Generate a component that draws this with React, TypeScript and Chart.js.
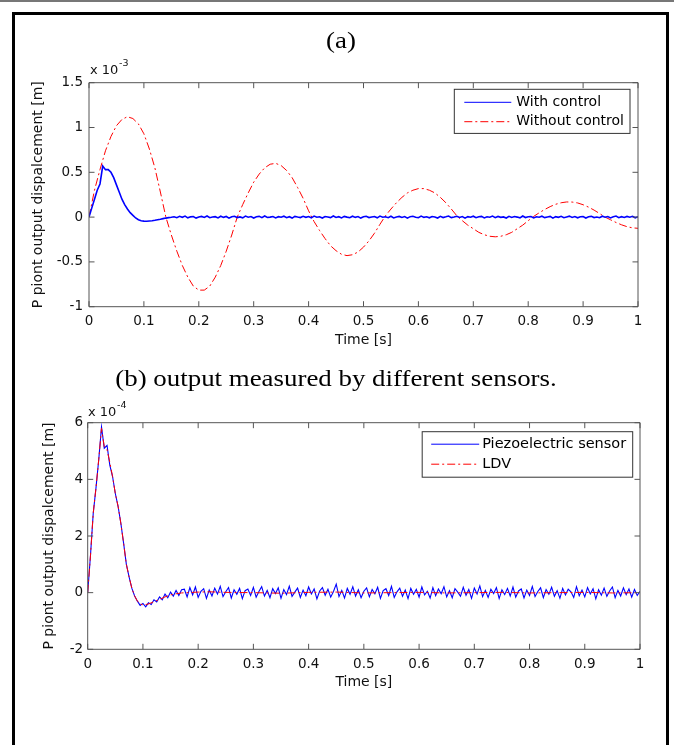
import React, { useEffect, useRef } from "react";
import { Chart, registerables } from "chart.js";

Chart.register(...registerables);

// ---------------- data ----------------
const TIME_TICKS = [0, 0.1, 0.2, 0.3, 0.4, 0.5, 0.6, 0.7, 0.8, 0.9, 1];
const Y_TICKS_A = [-1, -0.5, 0, 0.5, 1, 1.5]; // x 10^-3 m
const Y_TICKS_B = [-2, 0, 2, 4, 6]; // x 10^-4 m

const TRACE_STEP = 0.005; // s, sampling of the measured traces
const RED_A_STEP = 0.01; // s

// (a) with control, units 1e-3 m, t = 0 .. 1 s every 0.005 s
const WITH_CONTROL = [
  0, 0.1, 0.2, 0.3, 0.37, 0.57, 0.53, 0.53, 0.5, 0.44,
  0.36, 0.28, 0.2, 0.14, 0.09, 0.05, 0.02, -0.01, -0.03, -0.04,
  -0.045, -0.046, -0.043, -0.04, -0.036, -0.03, -0.024, -0.017, -0.011, -0.006,
  -0.002,
  0.004, -0.006, 0.009, -0.002, 0.011, -0.008, 0.003, 0.006, -0.011, 0.002,
  0.008, -0.004, 0.012, -0.007, 0.001, 0.005, -0.009, 0.01, -0.003, 0.007,
  -0.012, 0.004, 0.009, -0.005, 0.002, -0.008, 0.011, -0.001, 0.006, -0.01,
  0.003, 0.008, -0.006, 0.012, -0.004, 0.0, 0.007, -0.009, 0.005, -0.002,
  0.01, -0.007, 0.004, -0.011, 0.008, 0.001, -0.005, 0.009, -0.003, 0.006,
  -0.008, 0.011, -0.002, 0.004, -0.01, 0.007, 0.002, -0.006, 0.012, -0.004,
  0.005, -0.009, 0.008, 0.0, -0.007, 0.01, -0.003, 0.006, -0.011, 0.003,
  0.009, -0.005, 0.001, 0.007, -0.008, 0.011, -0.002, 0.004, -0.006, 0.01,
  -0.009, 0.002, 0.008, -0.004, 0.006, -0.012, 0.005, 0.009, -0.001, -0.007,
  0.011, -0.003, 0.004, -0.008, 0.007, 0.002, -0.01, 0.008, -0.005, 0.003,
  0.012, -0.006, 0.001, 0.009, -0.004, 0.006, -0.011, 0.005, -0.002, 0.01,
  -0.007, 0.003, 0.008, -0.009, 0.004, -0.001, 0.011, -0.006, 0.007, -0.003,
  0.002, -0.01, 0.009, -0.004, 0.006, 0.0, -0.008, 0.012, -0.005, 0.003,
  0.007, -0.009, 0.004, -0.002, 0.01, -0.006, 0.001, 0.008, -0.011, 0.005,
  -0.003, 0.009, -0.007, 0.002, 0.011, -0.004, 0.006, -0.008, 0.003, 0.007,
  -0.01, 0.004, 0.008, -0.005, 0.001, -0.007, 0.01, -0.002, 0.006, -0.009,
  0.003, 0.012, -0.006, 0.005, -0.004, 0.008, -0.001, 0.009, -0.008, 0.004,
];

// (a) without control, units 1e-3 m, t = 0 .. 1 s every 0.01 s
const WITHOUT_CONTROL = [
  0, 0.3, 0.53, 0.74, 0.9, 1.02, 1.09, 1.12, 1.1, 1.04, 0.93,
  0.76, 0.55, 0.28, 0.0, -0.2, -0.38, -0.54, -0.67, -0.77, -0.815,
  -0.815, -0.77, -0.67, -0.54, -0.38, -0.2, 0.0, 0.14, 0.27, 0.39,
  0.48, 0.55, 0.59, 0.6, 0.575, 0.52, 0.44, 0.33, 0.21, 0.07,
  -0.05, -0.15, -0.24, -0.32, -0.375, -0.415, -0.43, -0.42, -0.39, -0.335,
  -0.265, -0.18, -0.08, 0.015, 0.09, 0.16, 0.22, 0.27, 0.3, 0.318,
  0.318, 0.3, 0.27, 0.22, 0.16, 0.09, 0.015, -0.04, -0.09, -0.13,
  -0.17, -0.197, -0.214, -0.22, -0.214, -0.197, -0.17, -0.13, -0.09, -0.04,
  0.008, 0.048, 0.085, 0.117, 0.143, 0.16, 0.169, 0.168, 0.158, 0.138,
  0.111, 0.078, 0.04, 0.0, -0.03, -0.06, -0.086, -0.107, -0.12, -0.125,
];

// (b) piezoelectric sensor, units 1e-4 m, t = 0 .. 1 s every 0.005 s
const PIEZO = [
  0, 1.3, 2.8, 3.7, 4.7, 5.85, 5.1, 5.2, 4.5, 4.1,
  3.5, 3.05, 2.45, 1.75, 1.0, 0.55, 0.15, -0.12, -0.3, -0.45,
  -0.38, -0.5, -0.36, -0.42, -0.25, -0.33, -0.15, -0.25, -0.05, -0.18,
  0.02, -0.12, 0.08, -0.1, 0.1,
  0.12, -0.15, 0.18, -0.08, 0.2, -0.17, 0.05, 0.14, -0.2, 0.09,
  -0.12, 0.16, -0.05, 0.22, -0.14, 0.03, 0.18, -0.19, 0.1, -0.06,
  0.15, -0.21, 0.07, 0.13, -0.1, 0.19, -0.16, 0.04, 0.21, -0.12,
  0.08, -0.18, 0.14, -0.03, 0.17, -0.2, 0.11, -0.07, 0.23, -0.13,
  0.02, 0.16, -0.17, 0.09, -0.11, 0.2, -0.05, 0.13, -0.22, 0.06,
  0.18, -0.09, 0.12, -0.16, 0.04, 0.3, -0.14, 0.08, -0.19, 0.15,
  -0.06, 0.21, -0.12, 0.1, -0.18, 0.05, 0.17, -0.15, 0.11, -0.04,
  0.19, -0.2, 0.07, 0.14, -0.1, 0.22, -0.17, 0.03, 0.16, -0.13,
  0.09, -0.21, 0.15, -0.06, 0.12, -0.16, 0.2, -0.08, 0.05, -0.19,
  0.18, -0.11, 0.13, -0.04, 0.21, -0.15, 0.07, -0.18, 0.14, 0.02,
  -0.13, 0.19, -0.09, 0.11, -0.2, 0.16, -0.05, 0.24, -0.14, 0.08,
  -0.17, 0.12, -0.03, 0.18, -0.21, 0.1, -0.07, 0.15, -0.12, 0.2,
  -0.16, 0.06, 0.13, -0.19, 0.09, -0.1, 0.22, -0.14, 0.04, 0.17,
  -0.18, 0.11, -0.06, 0.19, -0.13, 0.07, -0.2, 0.15, -0.08, 0.12,
  0.03, -0.17, 0.21, -0.11, 0.09, -0.15, 0.18, -0.05, 0.14, -0.22,
  0.1, -0.09, 0.16, -0.13, 0.06, 0.2, -0.18, 0.08, -0.12, 0.17,
  -0.07, 0.13, -0.16, 0.11, -0.1, 0.05,
];

// (b) LDV, units 1e-4 m
const LDV_TIME = [
  0, 0.005, 0.01, 0.015, 0.02, 0.025, 0.03, 0.035, 0.04, 0.045,
  0.05, 0.055, 0.06, 0.065, 0.07, 0.075, 0.08, 0.085, 0.09, 0.095,
  0.1, 0.105, 0.11, 0.12, 0.13, 0.14, 0.15, 0.16, 0.17, 0.18,
  0.2, 0.22, 0.25, 0.3, 0.35, 0.4, 0.45, 0.5, 0.55, 0.6,
  0.65, 0.7, 0.75, 0.8, 0.85, 0.9, 0.95, 1,
];
const LDV = [
  0, 1.3, 2.8, 3.7, 4.7, 5.8, 5.15, 5.05, 4.6, 4.1,
  3.5, 3.05, 2.45, 1.75, 1.0, 0.55, 0.15, -0.12, -0.3, -0.4,
  -0.43, -0.42, -0.4, -0.32, -0.24, -0.15, -0.08, -0.04, -0.01, 0,
  0.02, 0.03, 0.01, 0, -0.02, 0.01, 0.02, -0.01, 0.0, 0.01,
  -0.01, 0.0, 0.01, -0.01, 0.0, 0.01, -0.01, 0.0,
];

// ---------------- styling ----------------
const SANS = "'DejaVu Sans', 'Liberation Sans', Arial, sans-serif";
const SERIF = "'Liberation Serif', 'Times New Roman', serif";
const AXIS_COLOR = "#555";

const matlabAxes = {
  id: "matlabAxes",
  afterDatasetsDraw(chart: any, _args: any, opts: any) {
    const { ctx, chartArea } = chart;
    const { left, right, top, bottom } = chartArea;
    const xs = chart.scales.x;
    const ys = chart.scales.y;
    const L = opts.tickLen;
    ctx.save();
    ctx.strokeStyle = AXIS_COLOR;
    ctx.lineWidth = 1;
    ctx.setLineDash([]);
    ctx.beginPath();
    ctx.rect(left, top, right - left, bottom - top);
    for (const t of xs.ticks) {
      const px = xs.getPixelForValue(t.value);
      ctx.moveTo(px, bottom);
      ctx.lineTo(px, bottom - L);
      ctx.moveTo(px, top);
      ctx.lineTo(px, top + L);
    }
    for (const t of ys.ticks) {
      const py = ys.getPixelForValue(t.value);
      ctx.moveTo(left, py);
      ctx.lineTo(left + L, py);
      ctx.moveTo(right, py);
      ctx.lineTo(right - L, py);
    }
    ctx.stroke();

    const lg = opts.legend;
    const ds = chart.data.datasets;
    ctx.font = `${lg.fontSize}px ${SANS}`;
    const textW = Math.max(...ds.map((d: any) => ctx.measureText(d.label).width));
    const w = lg.padLeft + lg.sample + lg.gap + textW + lg.padRight;
    const h = lg.padTop + ds.length * lg.rowH + lg.padBottom;
    const bx = right - lg.offsetRight - w;
    const by = top + lg.offsetTop;
    ctx.fillStyle = "#fff";
    ctx.fillRect(bx, by, w, h);
    ctx.strokeStyle = "#333";
    ctx.lineWidth = 1;
    ctx.strokeRect(bx, by, w, h);
    ds.forEach((d: any, i: number) => {
      const cy = by + lg.padTop + lg.rowH * (i + 0.5);
      ctx.beginPath();
      ctx.setLineDash(d.borderDash || []);
      ctx.strokeStyle = d.borderColor;
      ctx.lineWidth = 1;
      ctx.moveTo(bx + lg.padLeft, cy);
      ctx.lineTo(bx + lg.padLeft + lg.sample, cy);
      ctx.stroke();
      ctx.setLineDash([]);
      ctx.fillStyle = "#000";
      ctx.textBaseline = "middle";
      ctx.textAlign = "left";
      ctx.fillText(d.label, bx + lg.padLeft + lg.sample + lg.gap, cy);
    });
    ctx.restore();
  },
};

function fmt(v: number) {
  return String(Math.round(v * 10) / 10);
}

function makeConfig(spec: any) {
  return {
    type: "line",
    data: { datasets: spec.datasets },
    plugins: [matlabAxes],
    options: {
      animation: false,
      responsive: false,
      maintainAspectRatio: false,
      events: [],
      layout: { padding: spec.padding },
      elements: { point: { radius: 0 }, line: { tension: 0 } },
      plugins: {
        legend: { display: false },
        tooltip: { enabled: false },
        matlabAxes: { tickLen: 5.5, legend: spec.legend },
      },
      scales: {
        x: {
          type: "linear",
          min: 0,
          max: 1,
          afterBuildTicks: (s: any) => {
            s.ticks = TIME_TICKS.map((v) => ({ value: v }));
          },
          afterFit: (s: any) => {
            s.height = spec.xAxisHeight;
          },
          grid: { display: false, drawTicks: false, tickLength: 0 },
          border: { display: false },
          ticks: {
            autoSkip: false,
            maxRotation: 0,
            padding: spec.xTickPad,
            color: "#111",
            font: { family: SANS, size: 13.5 },
            callback: (v: any) => fmt(Number(v)),
          },
          title: {
            display: true,
            text: "Time [s]",
            color: "#111",
            font: { family: SANS, size: 14 },
            padding: { top: 0, bottom: spec.xTitlePad },
          },
        },
        y: {
          type: "linear",
          min: spec.yTicks[0],
          max: spec.yTicks[spec.yTicks.length - 1],
          afterBuildTicks: (s: any) => {
            s.ticks = spec.yTicks.map((v: number) => ({ value: v }));
          },
          afterFit: (s: any) => {
            s.width = spec.yAxisWidth;
          },
          grid: { display: false, drawTicks: false, tickLength: 0 },
          border: { display: false },
          ticks: {
            autoSkip: false,
            padding: spec.yTickPad,
            color: "#111",
            font: { family: SANS, size: 13.5 },
            callback: (v: any) => fmt(Number(v)),
          },
          title: {
            display: true,
            text: "P piont output dispalcement [m]",
            color: "#111",
            font: { family: SANS, size: 14 },
            padding: { top: spec.yTitlePad, bottom: 0 },
          },
        },
      },
    },
  };
}

const specA = {
  yTicks: Y_TICKS_A,
  datasets: [
    {
      label: "With control",
      data: WITH_CONTROL.map((v, i) => ({ x: i * TRACE_STEP, y: v })),
      borderColor: "#0000ff",
      borderWidth: 1.6,
    },
    {
      label: "Without control",
      data: WITHOUT_CONTROL.map((v, i) => ({ x: i * RED_A_STEP, y: v })),
      borderColor: "#ff0000",
      borderWidth: 1,
      borderDash: [8, 3, 2, 3],
    },
  ],
  padding: { left: 0, top: 32.7, right: 36, bottom: 13.3 },
  xAxisHeight: 50,
  yAxisWidth: 89,
  xTickPad: 6.9,
  xTitlePad: 8.3,
  yTickPad: 6,
  yTitlePad: 29.6,
  legend: {
    fontSize: 14,
    padLeft: 10,
    sample: 47,
    gap: 5,
    padRight: 6,
    padTop: 3.3,
    padBottom: 2,
    rowH: 19.4,
    offsetRight: 8,
    offsetTop: 6.6,
  },
};

const specB = {
  yTicks: Y_TICKS_B,
  datasets: [
    {
      label: "Piezoelectric sensor",
      data: PIEZO.map((v, i) => ({ x: i * TRACE_STEP, y: v })),
      borderColor: "#0000ff",
      borderWidth: 1.1,
      order: 1,
    },
    {
      label: "LDV",
      data: LDV.map((v, i) => ({ x: LDV_TIME[i], y: v })),
      borderColor: "#ff0000",
      borderWidth: 1,
      borderDash: [8, 3, 2, 3],
      order: 0,
    },
  ],
  padding: { left: 0, top: 32.7, right: 34, bottom: 30.7 },
  xAxisHeight: 50,
  yAxisWidth: 87.7,
  xTickPad: 6.6,
  xTitlePad: 8.2,
  yTickPad: 4.5,
  yTitlePad: 40.6,
  legend: {
    fontSize: 14.5,
    padLeft: 9,
    sample: 48,
    gap: 3,
    padRight: 6.5,
    padTop: 2.5,
    padBottom: 3,
    rowH: 20,
    offsetRight: 7.3,
    offsetTop: 9,
  },
};

function Panel({ spec, top, height }: { spec: any; top: number; height: number }) {
  const ref = useRef<HTMLCanvasElement | null>(null);
  useEffect(() => {
    if (!ref.current) return;
    const chart = new Chart(ref.current, makeConfig(spec) as any);
    return () => chart.destroy();
  }, [spec]);
  return (
    <canvas
      ref={ref}
      width={674}
      height={height}
      style={{ position: "absolute", left: 0, top, width: 674, height }}
    />
  );
}

const abs = (o: any) => ({ position: "absolute" as const, whiteSpace: "nowrap" as const, ...o });

export default function App() {
  return (
    <div
      style={{
        position: "absolute",
        left: 0,
        top: 0,
        width: 674,
        height: 745,
        background: "#fff",
        overflow: "hidden",
      }}
    >
      <div style={abs({ left: 0, top: 0, width: 674, height: 2, background: "#777" })} />
      <div
        style={abs({
          left: 12,
          top: 12,
          width: 651,
          height: 800,
          borderTop: "3px solid #000",
          borderLeft: "3px solid #000",
          borderRight: "3px solid #000",
        })}
      />
      <Panel spec={specA} top={50} height={320} />
      <Panel spec={specB} top={390} height={340} />

      <div
        style={abs({
          left: 141,
          top: 28,
          width: 400,
          textAlign: "center",
          font: `24px ${SERIF}`,
          lineHeight: "24px",
          color: "#000",
          transform: "scaleX(1.12)",
        })}
      >
        (a)
      </div>
      <div
        style={abs({
          left: 36,
          top: 365.7,
          width: 600,
          textAlign: "center",
          font: `24px ${SERIF}`,
          lineHeight: "24px",
          color: "#000",
          transform: "scaleX(1.12)",
        })}
      >
        (b) output measured by different sensors.
      </div>

      <div style={abs({ left: 90, top: 62.5, font: `13px ${SANS}`, lineHeight: "13px", color: "#111" })}>x 10</div>
      <div style={abs({ left: 119, top: 58, font: `9.5px ${SANS}`, lineHeight: "9.5px", color: "#111" })}>-3</div>
      <div style={abs({ left: 88, top: 404.5, font: `13px ${SANS}`, lineHeight: "13px", color: "#111" })}>x 10</div>
      <div style={abs({ left: 117, top: 400, font: `9.5px ${SANS}`, lineHeight: "9.5px", color: "#111" })}>-4</div>
    </div>
  );
}
